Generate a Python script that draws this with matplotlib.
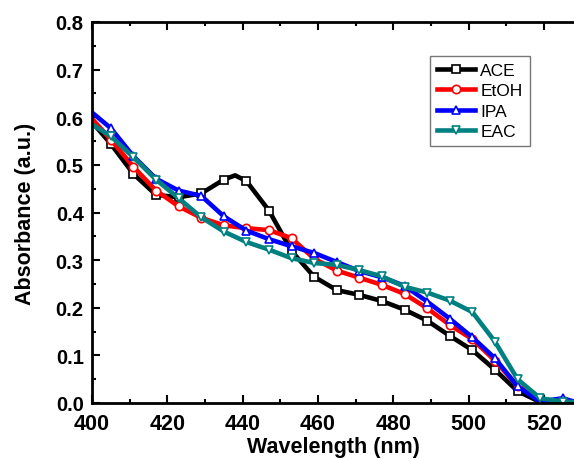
import matplotlib.pyplot as plt
from matplotlib.ticker import MultipleLocator

plt.rcParams['font.family'] = ['Liberation Sans', 'DejaVu Sans']

# wavelength grid (nm); first and last points are line ends without markers
wl = [400, 405, 411, 417, 423, 429, 435, 441, 447, 453, 459, 465, 471,
      477, 483, 489, 495, 501, 507, 513, 519, 525, 528]
wl_ace = [400, 405, 411, 417, 423, 429, 435, 438, 441, 447, 453, 459, 465,
          471, 477, 483, 489, 495, 501, 507, 513, 519, 525, 528]

ace = [0.590, 0.544, 0.481, 0.437, 0.432, 0.440, 0.469, 0.478, 0.466, 0.404,
       0.319, 0.265, 0.237, 0.227, 0.214, 0.196, 0.173, 0.141, 0.111, 0.070,
       0.025, 0.002, 0.000, 0.000]
etoh = [0.597, 0.553, 0.496, 0.446, 0.413, 0.389, 0.373, 0.367, 0.363, 0.346,
        0.303, 0.278, 0.263, 0.248, 0.229, 0.199, 0.164, 0.134, 0.089, 0.036,
        0.005, 0.004, 0.003]
ipa = [0.610, 0.577, 0.518, 0.471, 0.446, 0.435, 0.392, 0.362, 0.344, 0.329,
       0.315, 0.296, 0.277, 0.264, 0.246, 0.213, 0.177, 0.138, 0.094, 0.035,
       0.003, 0.010, 0.003]
eac = [0.585, 0.560, 0.516, 0.469, 0.430, 0.390, 0.360, 0.338, 0.322, 0.304,
       0.294, 0.290, 0.279, 0.266, 0.244, 0.232, 0.215, 0.191, 0.129, 0.050,
       0.010, 0.003, 0.002]

fig = plt.figure(figsize=(5.74, 4.6), dpi=100)
ax = fig.add_axes([92/574, 56/460, 482/574, 381/460])

mk_ace = [i for i, w in enumerate(wl_ace) if w not in (400, 438, 528)]
mk = list(range(1, len(wl) - 1))

estilo = dict(lw=3.3, ms=6, mfc='white', mew=1.2)
ax.plot(wl_ace, ace, '-s', color='black', markevery=mk_ace, label='ACE', **estilo)
ax.plot(wl, etoh, '-o', color='#ff0000', markevery=mk, label='EtOH', **estilo)
ax.plot(wl, ipa, '-^', color='#0000ff', markevery=mk, label='IPA', **estilo)
ax.plot(wl, eac, '-v', color='#008080', markevery=mk, label='EAC', **estilo)

ax.set_xlim(400, 528)
ax.set_ylim(0, 0.8)
ax.xaxis.set_major_locator(MultipleLocator(20))
ax.xaxis.set_minor_locator(MultipleLocator(10))
ax.yaxis.set_major_locator(MultipleLocator(0.1))
ax.yaxis.set_minor_locator(MultipleLocator(0.05))
ax.tick_params(which='both', direction='in', top=True, width=1.5)
ax.tick_params(which='major', length=6)
ax.tick_params(which='minor', length=3)
ax.tick_params(axis='x', labelsize=15.5, pad=7)
ax.tick_params(axis='y', labelsize=14.5, pad=6)
for lab in ax.get_xticklabels() + ax.get_yticklabels():
    lab.set_fontweight('bold')
ax.spines['right'].set_visible(False)
for s in ['left', 'bottom', 'top']:
    ax.spines[s].set_linewidth(2)

ax.set_xlabel('Wavelength (nm)', fontsize=15.5, fontweight='bold', labelpad=2)
ax.set_ylabel('Absorbance (a.u.)', fontsize=15.5, fontweight='bold', labelpad=14)

leg = ax.legend(loc='upper left', bbox_to_anchor=(430/574, 1 - 57/460),
                bbox_transform=fig.transFigure, fontsize=12.5, fancybox=False,
                edgecolor='#555555', handlelength=2.2, handletextpad=0.3,
                labelspacing=0.3, borderpad=0.4, borderaxespad=0)
leg.get_frame().set_linewidth(1.0)

plt.savefig('out.png', dpi=100)
